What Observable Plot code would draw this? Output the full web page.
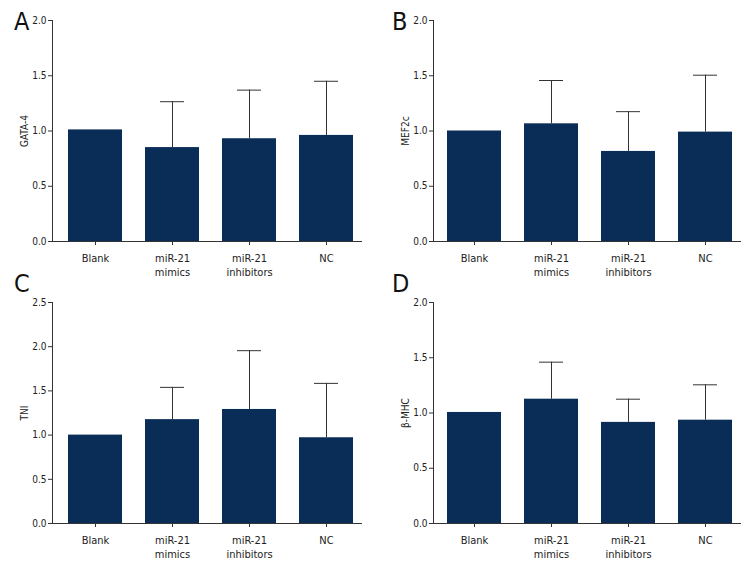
<!DOCTYPE html>
<html>
<head>
<meta charset="utf-8">
<script src="https://cdn.jsdelivr.net/npm/d3@7"></script>
<script src="https://cdn.jsdelivr.net/npm/@observablehq/plot@0.6"></script>
<style>
  html, body { margin: 0; padding: 0; background: #fff; }
  #root { position: relative; width: 756px; height: 576px; overflow: hidden;
    font-family: "Liberation Sans Narrow", "DejaVu Sans Condensed", "Roboto", sans-serif; }
  .panel { position: absolute; }
  .letter { position: absolute; font-size: 25px; color: #111; line-height: 1; }
</style>
</head>
<body>
<div id="root"></div>
<script>
// Categories and tick labels
const groups = ["Blank", "miR-21 mimics", "miR-21 inhibitors", "NC"];
const tickLabels = ["Blank", "miR-21\nmimics", "miR-21\ninhibitors", "NC"];

// Panel A: GATA-4
const gata4Mean  = [1.01, 0.85, 0.93, 0.96];
const gata4Upper = [null, 1.265, 1.37, 1.45];
// Panel B: MEF2c
const mef2cMean  = [1.00, 1.065, 0.815, 0.99];
const mef2cUpper = [null, 1.457, 1.175, 1.505];
// Panel C: TNI
const tniMean  = [1.00, 1.175, 1.29, 0.97];
const tniUpper = [null, 1.54, 1.955, 1.585];
// Panel D: beta-MHC
const bmhcMean  = [1.005, 1.125, 0.915, 0.935];
const bmhcUpper = [null, 1.46, 1.125, 1.255];

const yTicksA = [0, 0.5, 1.0, 1.5, 2.0];
const yTicksC = [0, 0.5, 1.0, 1.5, 2.0, 2.5];

const FONT = '"Liberation Sans Narrow", "DejaVu Sans Condensed", "Roboto", sans-serif';
const BAR = "#0a2d57";
const INK = "#333";

function panel({means, uppers, label, letter, yMax, ticks, left, top, ml, mr, mt, mb}) {
  const data = groups.map((g, i) => ({group: g, mean: means[i], upper: uppers[i]}));
  const errs = data.filter(d => d.upper != null);
  const chart = Plot.plot({
    width: 378, height: 288,
    marginLeft: ml, marginRight: mr, marginTop: mt, marginBottom: mb,
    style: {fontFamily: FONT, fontSize: "10px", color: "#222", background: "transparent"},
    x: {domain: groups, paddingInner: 0.3, paddingOuter: 0.15, align: 0.62, axis: null},
    y: {domain: [0, yMax], axis: null},
    marks: [
      Plot.barY(data, {x: "group", y: "mean", fill: BAR}),
      Plot.ruleX(errs, {x: "group", y1: "mean", y2: "upper", stroke: INK, strokeWidth: 1}),
      Plot.tickY(errs, {x: "group", y: "upper", stroke: INK, strokeWidth: 1, inset: 15}),
      Plot.ruleY([0], {stroke: INK, strokeWidth: 1}),
      Plot.frame({anchor: "left", stroke: INK, strokeWidth: 1}),
      Plot.axisY({ticks, tickFormat: ".1f", tickSize: 4, tickPadding: 2, stroke: INK,
        label, labelAnchor: "center", labelArrow: "none", labelOffset: 32, fontSize: 10}),
      Plot.axisX({tickSize: 4, tickPadding: 7, stroke: INK, fontSize: 11, lineHeight: 1.25, label: null,
        tickFormat: d => tickLabels[groups.indexOf(d)]})
    ]
  });
  chart.classList.add("panel");
  chart.style.left = left + "px";
  chart.style.top = top + "px";
  const root = document.getElementById("root");
  root.appendChild(chart);
  const l = document.createElement("div");
  l.className = "letter";
  l.textContent = letter;
  l.style.left = (left + 14) + "px";
  l.style.top = (top + (top === 0 ? 9 : -17)) + "px";
  root.appendChild(l);
}

panel({means: gata4Mean, uppers: gata4Upper, label: "GATA-4", letter: "A", yMax: 2, ticks: yTicksA,
  left: 0, top: 0, ml: 52, mr: 16, mt: 20, mb: 47});
panel({means: mef2cMean, uppers: mef2cUpper, label: "MEF2c", letter: "B", yMax: 2, ticks: yTicksA,
  left: 378, top: 0, ml: 55, mr: 15, mt: 20, mb: 47});
panel({means: tniMean, uppers: tniUpper, label: "TNI", letter: "C", yMax: 2.5, ticks: yTicksC,
  left: 0, top: 288, ml: 52, mr: 16, mt: 14, mb: 53});
panel({means: bmhcMean, uppers: bmhcUpper, label: "β-MHC", letter: "D", yMax: 2, ticks: yTicksA,
  left: 378, top: 288, ml: 55, mr: 15, mt: 14, mb: 53});
</script>
</body>
</html>
